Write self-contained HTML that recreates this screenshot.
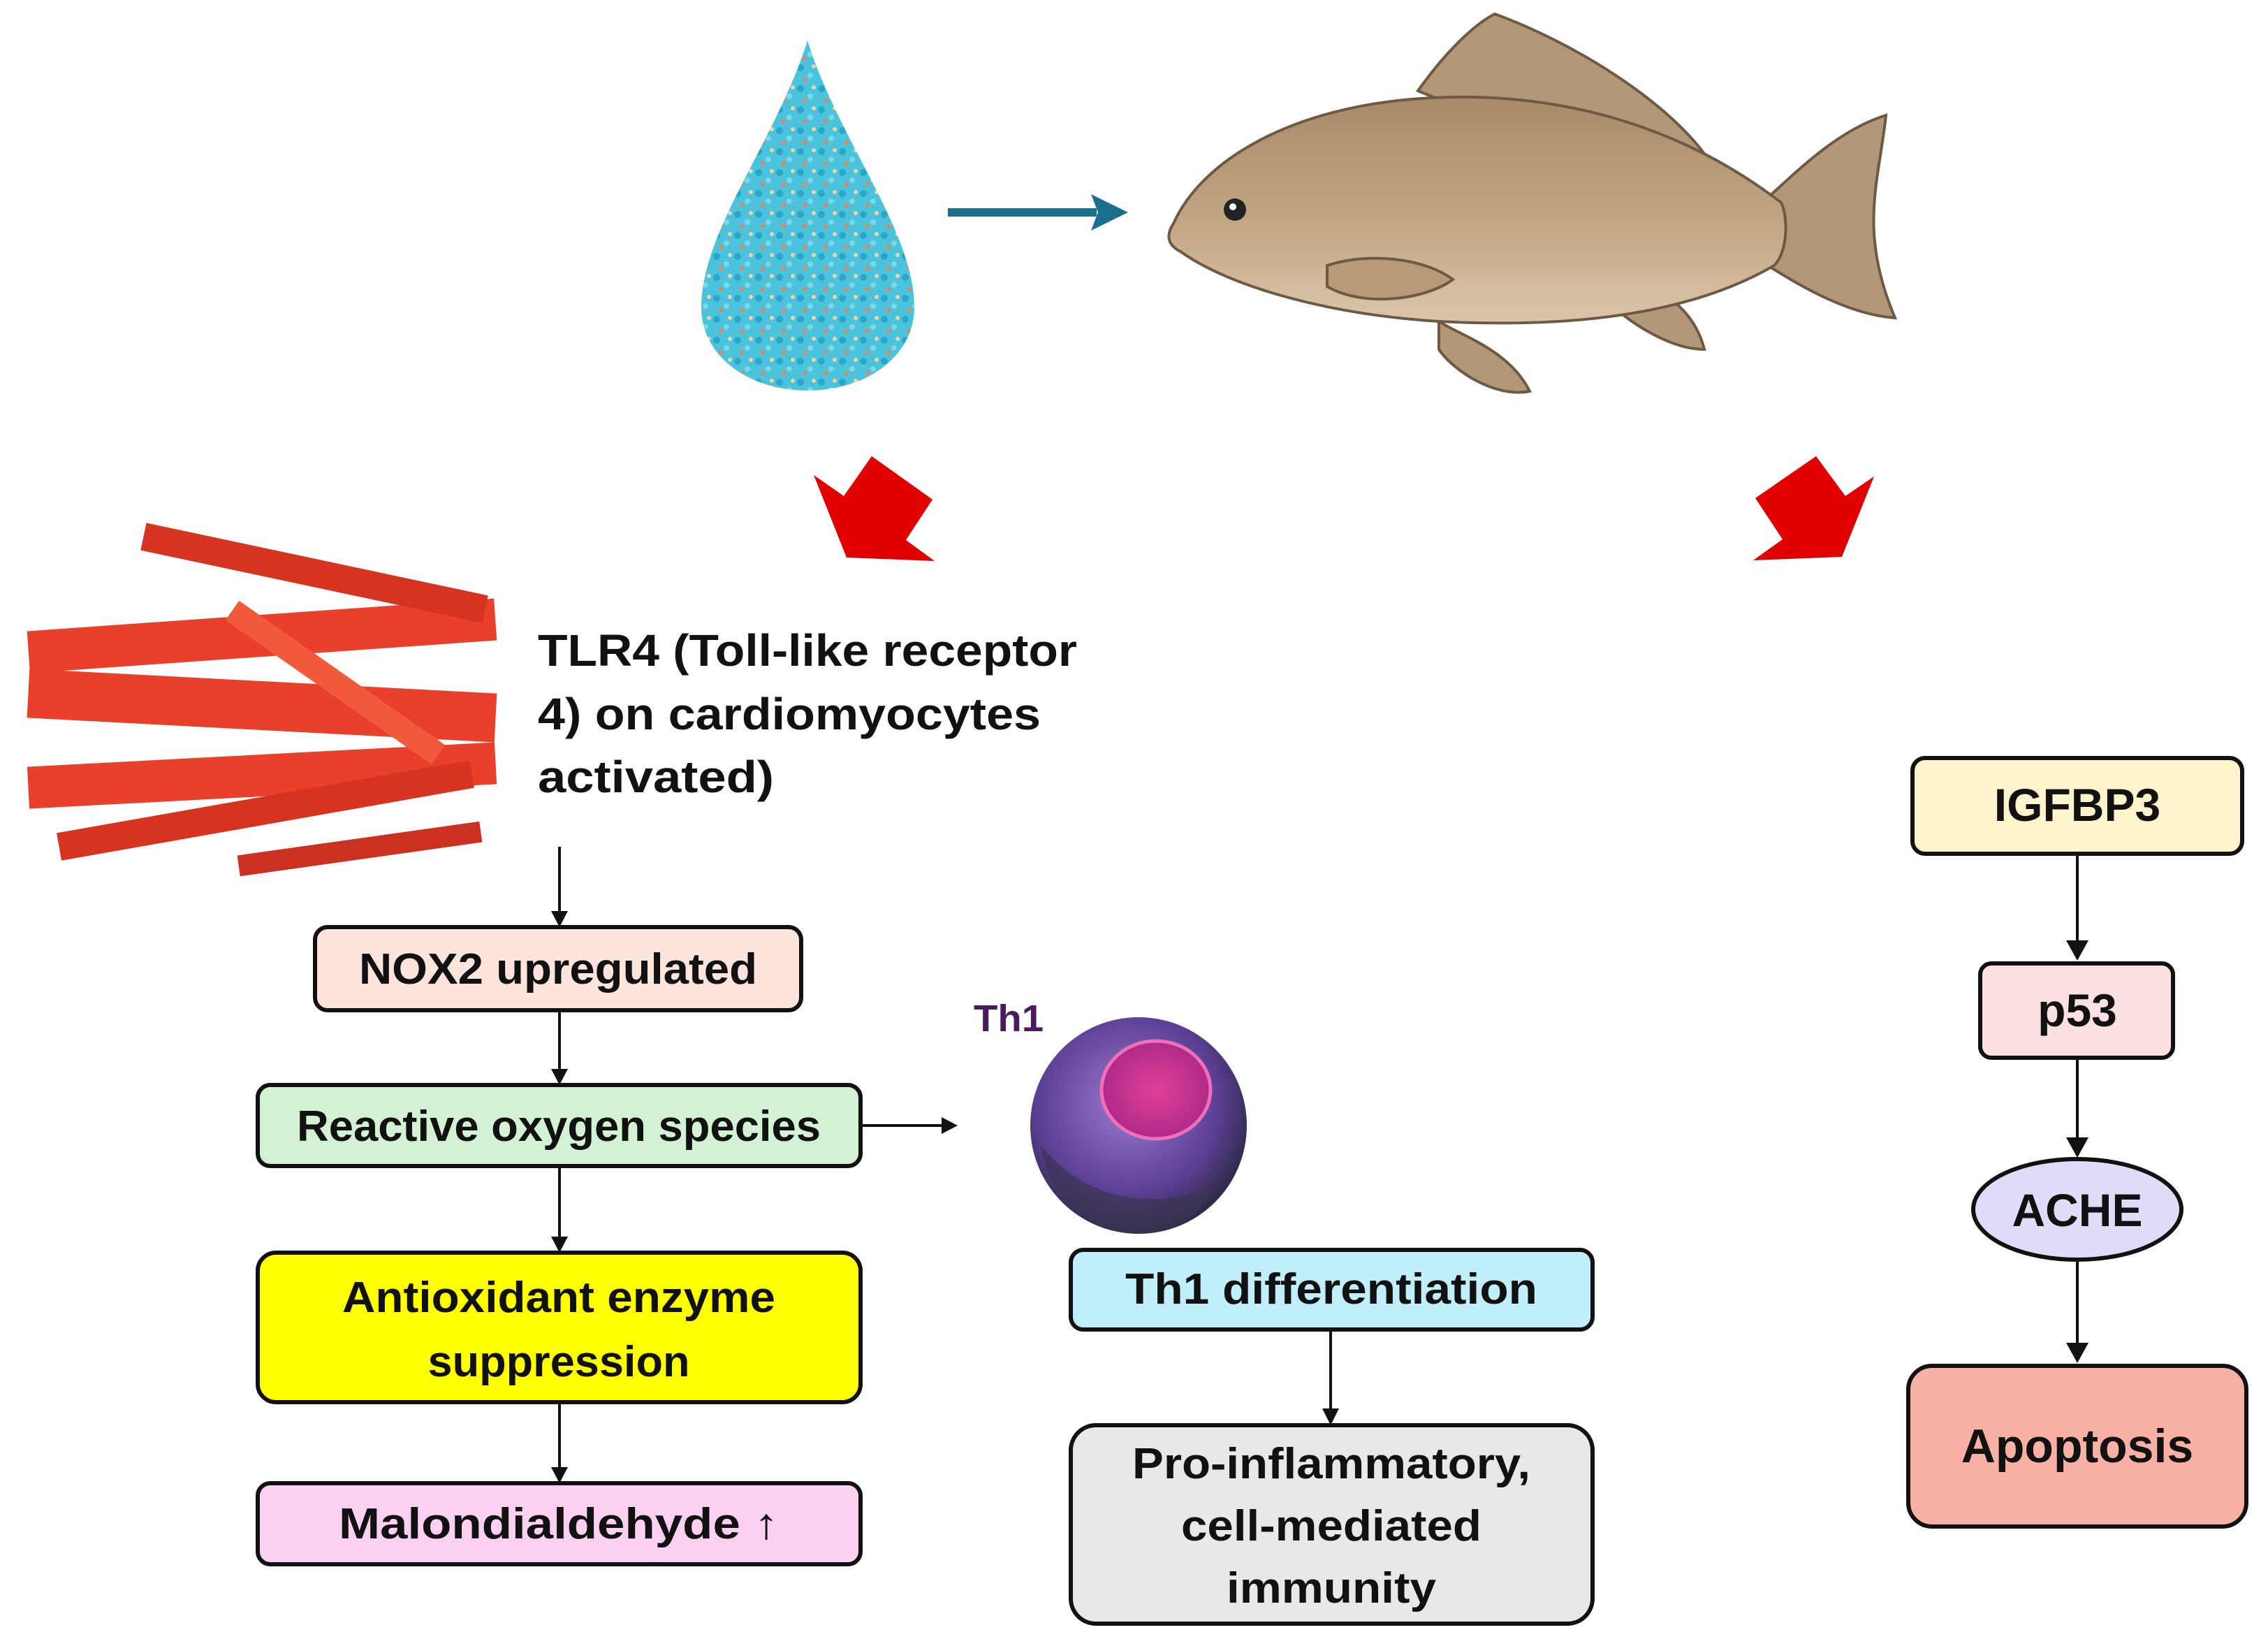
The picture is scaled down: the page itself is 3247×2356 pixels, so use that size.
<!DOCTYPE html>
<html><head><meta charset="utf-8"><style>
html,body{margin:0;padding:0;background:#fff;}
svg{display:block;}
.c{font-family:"Liberation Sans",sans-serif;font-weight:bold;fill:#111;}
</style></head><body>
<svg width="3247" height="2356" viewBox="0 0 3247 2356" xmlns="http://www.w3.org/2000/svg">
<defs>
<pattern id="dots" width="30" height="30" patternUnits="userSpaceOnUse">
<rect width="30" height="30" fill="#4cc3dc"/>
<circle cx="6" cy="7" r="5" fill="#2aa6c8"/><circle cx="20" cy="18" r="4" fill="#7dd8e6"/>
<circle cx="12" cy="24" r="3" fill="#f08050"/><circle cx="25" cy="5" r="3" fill="#e8d6a8"/>
</pattern>
<radialGradient id="cell" cx="45%" cy="40%" r="60%"><stop offset="0" stop-color="#9a7ad0"/><stop offset="0.7" stop-color="#5b3f94"/><stop offset="1" stop-color="#2f2a48"/></radialGradient>
<radialGradient id="nuc" cx="50%" cy="50%" r="50%"><stop offset="0" stop-color="#e0409a"/><stop offset="1" stop-color="#b02a88"/></radialGradient>
<linearGradient id="fishg" x1="0" y1="0" x2="0" y2="1"><stop offset="0" stop-color="#a88a68"/><stop offset="0.6" stop-color="#c5a987"/><stop offset="1" stop-color="#dcc6aa"/></linearGradient>
</defs>

<!-- drop -->
<path d="M1156 58 C1200 200 1309 330 1309 440 C1309 510 1240 559 1156 559 C1072 559 1004 510 1004 440 C1004 330 1112 200 1156 58 Z" fill="url(#dots)"/>
<!-- blue arrow -->
<line x1="1357" y1="304" x2="1570" y2="304" stroke="#1a6f8c" stroke-width="12"/>
<polygon points="1615,304 1562,278 1572,304 1562,330" fill="#1a6f8c"/>

<!-- fish -->
<g stroke="#6e5a44" stroke-width="4">
<path d="M2030 130 C2080 60 2120 30 2140 20 C2250 60 2380 140 2440 220 L2200 200 Z" fill="#b39878"/>
<path d="M2500 310 C2560 260 2620 190 2700 165 C2690 260 2660 330 2713 455 C2640 450 2560 400 2500 360 Z" fill="#b39878"/>
<path d="M2300 390 C2340 400 2420 420 2440 500 C2390 500 2330 460 2300 430 Z" fill="#b39878"/>
<path d="M2060 460 C2090 480 2160 500 2190 560 C2140 570 2080 530 2060 500 Z" fill="#b39878"/>
<path d="M1680 320 C1720 230 1850 150 2050 140 C2250 130 2420 190 2550 290 C2560 310 2560 360 2540 380 C2420 450 2250 470 2060 460 C1900 450 1760 410 1690 360 C1670 350 1670 335 1680 320 Z" fill="url(#fishg)"/>
<path d="M1900 380 C1960 360 2040 370 2080 400 C2040 430 1950 440 1900 410 Z" fill="#b89a78"/>
</g>
<circle cx="1768" cy="300" r="16" fill="#222"/><circle cx="1765" cy="296" r="5" fill="#fff"/>

<!-- red arrows -->
<polygon points="1165,680 1208,710 1248,653 1335,715 1297,773 1338,803 1212,798" fill="#e00000"/>
<polygon points="2513,713 2600,653 2642,710 2683,682 2637,797 2510,802 2552,772" fill="#e00000"/>

<!-- muscle -->
<g fill="#e8402a">
<rect x="40" y="880" width="670" height="60" transform="rotate(-4 375 910)"/>
<rect x="40" y="975" width="670" height="70" transform="rotate(3 375 1010)"/>
<rect x="40" y="1080" width="670" height="60" transform="rotate(-3 375 1110)"/>
<rect x="200" y="800" width="500" height="40" transform="rotate(12 450 820)" fill="#d63420"/>
<rect x="80" y="1140" width="600" height="40" transform="rotate(-10 380 1160)" fill="#d63420"/>
<rect x="340" y="1200" width="350" height="30" transform="rotate(-8 515 1215)" fill="#cc3020"/>
<rect x="300" y="960" width="360" height="34" transform="rotate(35 480 977)" fill="#f05a3a"/>
</g>

<g class="c" font-size="64">
<text x="770" y="953" textLength="772" lengthAdjust="spacingAndGlyphs">TLR4 (Toll-like receptor</text>
<text x="770" y="1044" textLength="720" lengthAdjust="spacingAndGlyphs">4) on cardiomyocytes</text>
<text x="770" y="1134" textLength="338" lengthAdjust="spacingAndGlyphs">activated)</text>
</g>

<g stroke="#111" stroke-width="4" fill="none">
<line x1="801" y1="1212" x2="801" y2="1310"/>
<line x1="801" y1="1446" x2="801" y2="1538"/>
<line x1="1232" y1="1611" x2="1355" y2="1611"/>
<line x1="801" y1="1669" x2="801" y2="1778"/>
<line x1="801" y1="2007" x2="801" y2="2108"/>
<line x1="1905" y1="1903" x2="1905" y2="2022"/>
<line x1="2974" y1="1222" x2="2974" y2="1355"/>
<line x1="2974" y1="1514" x2="2974" y2="1642"/>
<line x1="2974" y1="1806" x2="2974" y2="1932"/>
</g>
<g fill="#111">
<polygon points="801,1327 789,1304 813,1304"/>
<polygon points="801,1553 789,1530 813,1530"/>
<polygon points="1371,1611 1348,1599 1348,1623"/>
<polygon points="801,1793 789,1770 813,1770"/>
<polygon points="801,2123 789,2100 813,2100"/>
<polygon points="1905,2040 1893,2016 1917,2016"/>
<polygon points="2974,1375 2958,1346 2990,1346"/>
<polygon points="2974,1657 2958,1628 2990,1628"/>
<polygon points="2974,1951 2958,1922 2990,1922"/>
</g>

<g stroke="#111" stroke-width="6">
<rect x="451" y="1327" width="696" height="119" rx="18" fill="#fde4dc"/>
<rect x="369" y="1553" width="863" height="116" rx="18" fill="#d3f2d3"/>
<rect x="369" y="1793" width="863" height="214" rx="26" fill="#ffff00"/>
<rect x="369" y="2123" width="863" height="116" rx="18" fill="#fcd0f0"/>
<rect x="1533" y="1789" width="747" height="114" rx="18" fill="#c0eefb"/>
<rect x="1533" y="2040" width="747" height="284" rx="36" fill="#e8e8e8"/>
<rect x="2738" y="1085" width="472" height="137" rx="18" fill="#fff4cc"/>
<rect x="2835" y="1379" width="276" height="135" rx="16" fill="#fde0e0"/>
<ellipse cx="2974" cy="1731" rx="149" ry="72" fill="#e0dcf8"/>
<rect x="2732" y="1955" width="484" height="230" rx="34" fill="#f9b0a5"/>
</g>

<g class="c" font-size="62" text-anchor="middle">
<text x="799" y="1408" textLength="570" lengthAdjust="spacingAndGlyphs">NOX2 upregulated</text>
<text x="800" y="1633" textLength="750" lengthAdjust="spacingAndGlyphs">Reactive oxygen species</text>
<text x="800" y="1878" textLength="620" lengthAdjust="spacingAndGlyphs">Antioxidant enzyme</text>
<text x="800" y="1970" textLength="375" lengthAdjust="spacingAndGlyphs">suppression</text>
<text x="800" y="2202" textLength="630" lengthAdjust="spacingAndGlyphs">Malondialdehyde ↑</text>
<text x="1906" y="1866" textLength="590" lengthAdjust="spacingAndGlyphs">Th1 differentiation</text>
<text x="1906" y="2116" textLength="570" lengthAdjust="spacingAndGlyphs">Pro-inflammatory,</text>
<text x="1906" y="2205" textLength="430" lengthAdjust="spacingAndGlyphs">cell-mediated</text>
<text x="1906" y="2294" textLength="300" lengthAdjust="spacingAndGlyphs">immunity</text>
<text x="2974" y="1175" font-size="66">IGFBP3</text>
<text x="2974" y="1469" font-size="66">p53</text>
<text x="2974" y="1755" font-size="66">ACHE</text>
<text x="2974" y="2093" font-size="68">Apoptosis</text>
</g>

<text x="1394" y="1476" font-family="Liberation Sans,sans-serif" font-weight="bold" font-size="54" fill="#4b1a5e" textLength="100" lengthAdjust="spacingAndGlyphs">Th1</text>
<circle cx="1630" cy="1611" r="155" fill="url(#cell)"/>
<ellipse cx="1655" cy="1560" rx="78" ry="70" fill="url(#nuc)" stroke="#f070b8" stroke-width="5"/>
<path d="M1490 1640 C1540 1700 1620 1740 1740 1700 C1720 1740 1680 1766 1630 1766 C1560 1766 1500 1710 1490 1640 Z" fill="#3a3550" opacity="0.7"/>
</svg>
</body></html>
